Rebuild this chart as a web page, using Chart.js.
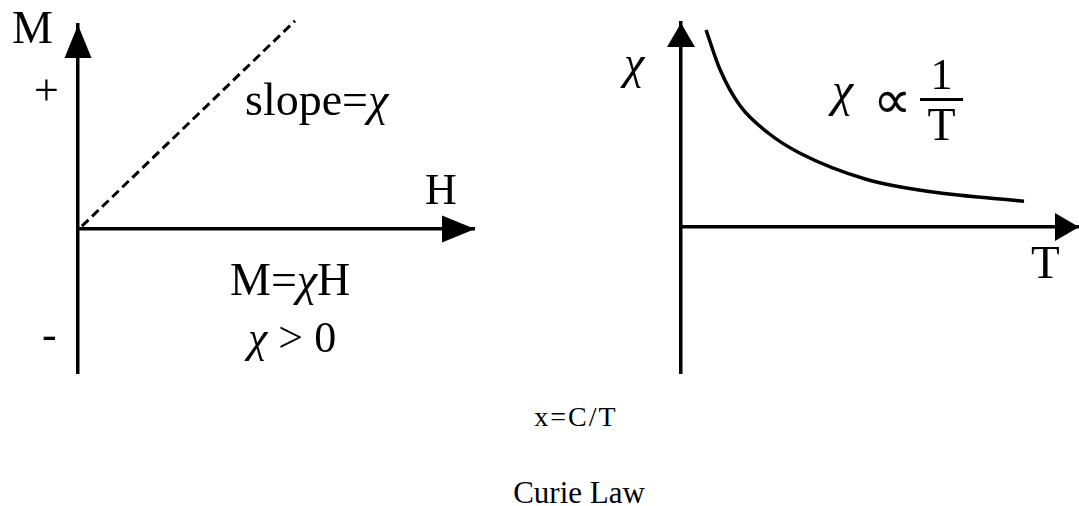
<!DOCTYPE html>
<html>
<head>
<meta charset="utf-8">
<script src="https://cdn.jsdelivr.net/npm/chart.js@4.4.1/dist/chart.umd.min.js"></script>
<style>
  body { margin: 0; background: #fff; }
  #wrap { position: relative; width: 1079px; height: 506px; overflow: hidden; background: #fff; }
  canvas { position: absolute; top: 0; }
  .t { position: absolute; font-family: "Liberation Serif", "DejaVu Serif", serif; line-height: 1; color: #000; white-space: nowrap; }
  .c { font-style: italic; }
</style>
</head>
<body>
<div id="wrap">
  <div style="position:absolute;left:0;top:0;width:540px;height:400px"><canvas id="magnet"></canvas></div>
  <div style="position:absolute;left:540px;top:0;width:539px;height:400px"><canvas id="curie"></canvas></div>

  <div class="t" style="left:12px;top:5px;font-size:46px">M</div>
  <div class="t" style="left:34px;top:69px;font-size:44px">+</div>
  <div class="t" style="left:42px;top:313px;font-size:44px">-</div>
  <div class="t" style="left:245px;top:77px;font-size:46px">slope=<span class="c">χ</span></div>
  <div class="t" style="left:425px;top:168px;font-size:44px">H</div>
  <div class="t" style="left:230px;top:257px;font-size:46px">M=<span class="c">χ</span>H</div>
  <div class="t" style="left:248px;top:316px;font-size:44px"><span class="c">χ</span> &gt; 0</div>

  <div class="t c" style="left:624px;top:40px;font-size:46px">χ</div>
  <div class="t c" style="left:832px;top:66px;font-size:48px">χ</div>
  <div class="t" style="left:873px;top:73px;font-size:54px;font-family:'DejaVu Sans',sans-serif;font-weight:300">∝</div>
  <div class="t" style="left:920px;top:53px;width:43px;text-align:center;font-size:44px">1</div>
  <div style="position:absolute;left:920px;top:98px;width:43px;height:3px;background:#000"></div>
  <div class="t" style="left:920px;top:102px;width:43px;text-align:center;font-size:46px">T</div>
  <div class="t" style="left:1031px;top:239px;font-size:47px">T</div>

  <div class="t" style="left:476px;top:403px;width:200px;text-align:center;font-size:28px;letter-spacing:2px">x=C/T</div>
  <div class="t" style="left:479px;top:477px;width:200px;text-align:center;font-size:31px">Curie Law</div>
</div>
<script>
// left diagram: M = chi * H (dashed line from the origin)
const lineH = [0.1, 5.48];
const lineM = [0.08, 5.98];

// right diagram: chi vs T, roughly 1/T
const curveT = [0.63, 0.98, 1.48, 2.2, 2.99, 4.67, 6.33, 8.62];
const curveChi = [5.63, 4.5, 3.47, 2.68, 2.11, 1.36, 1.0, 0.74];

// arrow heads at the end of both axes
const arrowPlugin = {
  id: "arrows",
  afterDraw(chart, args, opts) {
    const { ctx } = chart;
    const x = chart.scales.x, y = chart.scales.y;
    const ox = x.getPixelForValue(0), oy = y.getPixelForValue(0);
    const right = x.getPixelForValue(x.max), top = y.getPixelForValue(y.max);
    ctx.save();
    ctx.fillStyle = "#000";
    ctx.beginPath();
    ctx.moveTo(ox, top);
    ctx.lineTo(ox - opts.half, top + opts.len);
    ctx.lineTo(ox + opts.half, top + opts.len);
    ctx.closePath();
    ctx.fill();
    ctx.beginPath();
    ctx.moveTo(right + opts.over, oy);
    ctx.lineTo(right + opts.over - opts.len, oy - opts.half);
    ctx.lineTo(right + opts.over - opts.len, oy + opts.half);
    ctx.closePath();
    ctx.fill();
    ctx.restore();
  },
};

function axes(ymin, ymax) {
  const common = {
    grid: { display: false },
    ticks: { display: false },
    border: { display: true, color: "#000", width: 3.5 },
  };
  return {
    x: { ...common, type: "linear", min: 0, max: 10, position: { y: 0 } },
    y: { ...common, type: "linear", min: ymin, max: ymax, position: { x: 0 } },
  };
}

function points(xs, ys) {
  return xs.map((v, i) => ({ x: v, y: ys[i] }));
}

new Chart(document.getElementById("magnet"), {
  type: "scatter",
  data: {
    datasets: [{
      data: points(lineH, lineM),
      showLine: true,
      borderColor: "#000",
      borderWidth: 3,
      borderDash: [9, 5],
      pointRadius: 0,
      clip: false,
    }],
  },
  options: {
    responsive: true,
    maintainAspectRatio: false,
    animation: false,
    layout: { padding: { left: 78, top: 25, right: 66, bottom: 27 } },
    scales: axes(-4.14, 5.86),
    plugins: { legend: { display: false }, tooltip: { enabled: false }, arrows: { len: 33, half: 13.5, over: 1 } },
  },
  plugins: [arrowPlugin],
});

new Chart(document.getElementById("curie"), {
  type: "scatter",
  data: {
    datasets: [{
      data: points(curveT, curveChi),
      showLine: true,
      borderColor: "#000",
      borderWidth: 3.5,
      cubicInterpolationMode: "monotone",
      pointRadius: 0,
      clip: false,
    }],
  },
  options: {
    responsive: true,
    maintainAspectRatio: false,
    animation: false,
    layout: { padding: { left: 141, top: 23, right: 0, bottom: 27 } },
    scales: axes(-4.17, 5.83),
    plugins: { legend: { display: false }, tooltip: { enabled: false }, arrows: { len: 24, half: 14, over: 0 } },
  },
  plugins: [arrowPlugin],
});
</script>
</body>
</html>
